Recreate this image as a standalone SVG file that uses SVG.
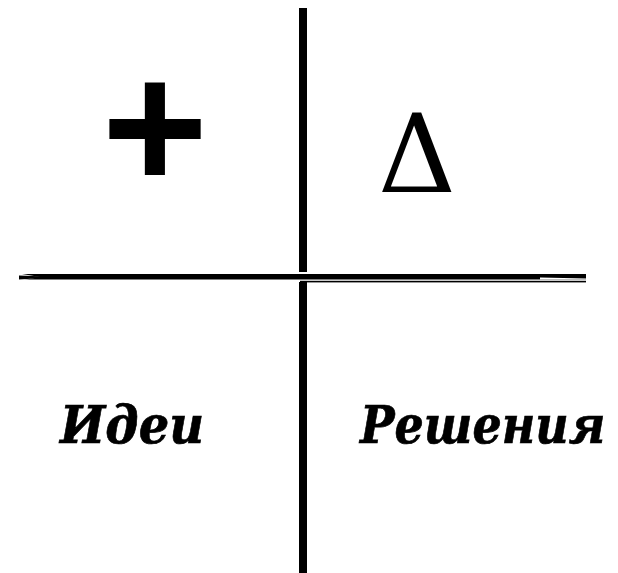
<svg xmlns="http://www.w3.org/2000/svg" width="618" height="573" viewBox="0 0 618 573">
<style>
.lbl{font-family:"DejaVu Serif","Liberation Serif",serif;font-weight:bold;font-style:italic;font-size:46px;fill:#000;stroke:#000;stroke-width:0.6}
.sym{fill:#000}
</style>
<rect width="618" height="573" fill="#fff"/>
<g id="connectors">
<rect x="299" y="8" width="8" height="264" fill="#000"/>
<rect x="299" y="282" width="8" height="291" fill="#000"/>
<g id="hline">
<rect x="19" y="274" width="567" height="5.5" fill="#000"/>
<rect x="300" y="280.8" width="286" height="1.6" fill="#000"/>
<polygon points="19,273.5 40,277 19,281" fill="#fff"/>
<polygon points="19,275.5 60,277 19,279.5" fill="#000"/>
<polygon points="540,277.5 586,278.6 586,279.5 540,279.5" fill="#fff"/>
</g>
</g>
<g id="plus"><text class="sym" x="155" y="189" text-anchor="middle" style="font-family:'Liberation Sans',Arial,sans-serif;font-weight:bold;font-size:182px">+</text></g>
<g id="delta"><text class="sym" x="417" y="192" text-anchor="middle" style="font-family:'DejaVu Serif',serif;font-size:108px">Δ</text></g>
<g id="ideas"><text class="lbl" transform="translate(60,443) scale(1,1.13)" x="0" y="0" textLength="144" lengthAdjust="spacingAndGlyphs">Идеи</text></g>
<g id="solutions"><text class="lbl" transform="translate(360,443) scale(1,1.13)" x="0" y="0">Решения</text></g>
</svg>
